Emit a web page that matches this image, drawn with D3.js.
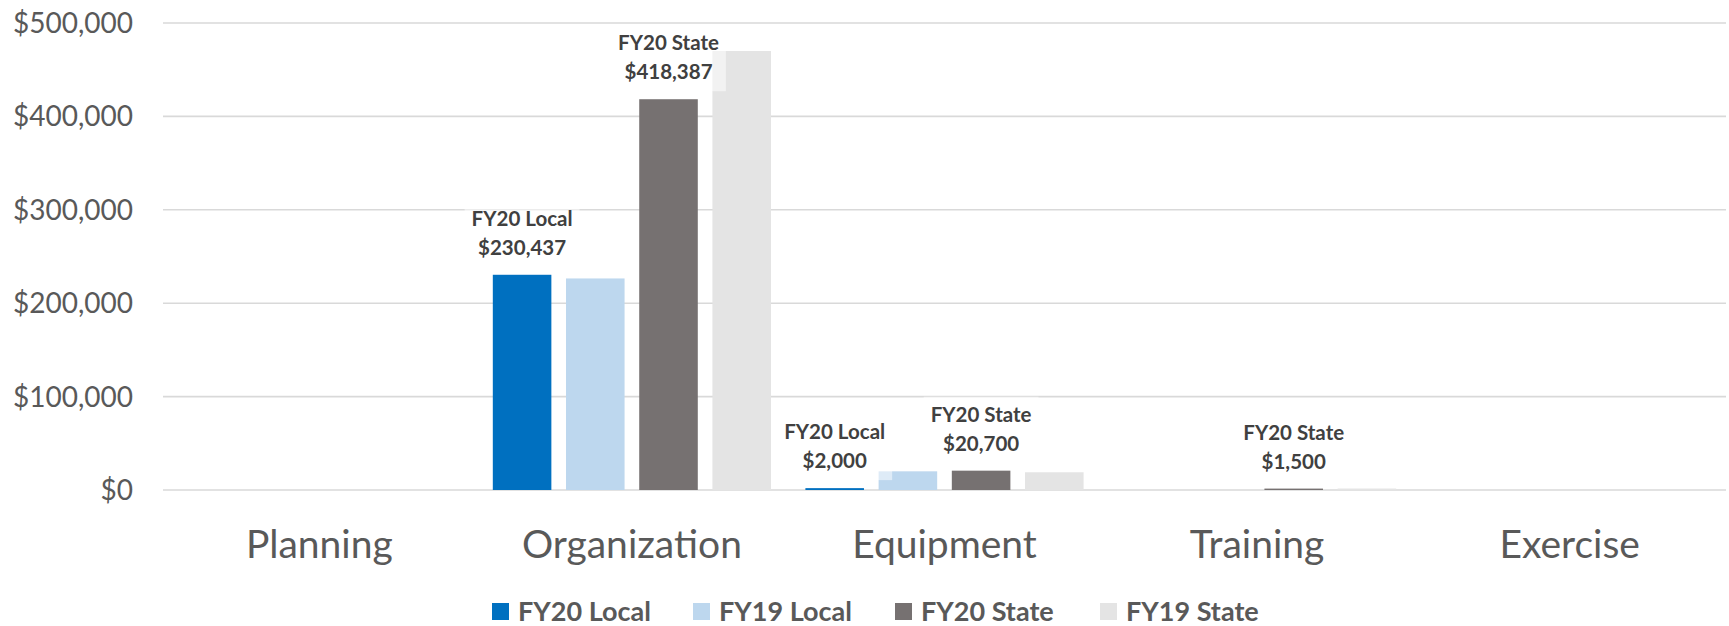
<!DOCTYPE html>
<html>
<head>
<meta charset="utf-8">
<script src="https://cdn.jsdelivr.net/npm/d3@7"></script>
<style>
  html, body { margin: 0; padding: 0; background: #fff; }
  svg { display: block; font-family: Lato, "Open Sans", sans-serif; }
</style>
</head>
<body>
<div class="chart"></div>
<script>
const categories = ['Planning', 'Organization', 'Equipment', 'Training', 'Exercise'];
const seriesNames = ['FY20 Local', 'FY19 Local', 'FY20 State', 'FY19 State'];
const fy20Local = [0, 230437, 2000, 0, 0];
const fy19Local = [0, 226500, 20000, 0, 0];
const fy20State = [0, 418387, 20700, 1500, 0];
const fy19State = [0, 470000, 19000, 1600, 0];
const yTicks = [0, 100000, 200000, 300000, 400000, 500000];
// only the FY20 series carry data labels
const labelled = ['FY20 Local', 'FY20 State'];

const COLORS = ['#0070C0', '#BDD7EE', '#767171', '#E4E4E4'];

const width = 1729, height = 626;
const seriesValues = [fy20Local, fy19Local, fy20State, fy19State];

const svg = d3.select('.chart').append('svg')
  .attr('width', width)
  .attr('height', height);

const x = d3.scaleBand()
  .domain(categories)
  .range([163, 1726])
  .padding(0);

const xInner = d3.scaleBand()
  .domain(seriesNames)
  .range([0, x.bandwidth()])
  .paddingInner(0.2)
  .paddingOuter(0.235);

const y = d3.scaleLinear()
  .domain([0, 500000])
  .range([490, 23]);

const fmt = d3.format(',');

// gridlines
svg.append('g').selectAll('line')
  .data(yTicks)
  .enter().append('line')
  .attr('x1', 163)
  .attr('x2', 1726)
  .attr('y1', d => y(d))
  .attr('y2', d => y(d))
  .attr('stroke', '#D9D9D9')
  .attr('stroke-width', 1.6);

// y tick labels
svg.append('g').selectAll('text')
  .data(yTicks)
  .enter().append('text')
  .attr('x', 133)
  .attr('y', d => y(d))
  .attr('dy', '0.36em')
  .attr('text-anchor', 'end')
  .attr('fill', '#595959')
  .style('font-size', '28px')
  .text(d => '$' + fmt(d));

// category labels
svg.append('g').selectAll('text')
  .data(categories)
  .enter().append('text')
  .attr('x', d => x(d) + x.bandwidth() / 2)
  .attr('y', 558)
  .attr('text-anchor', 'middle')
  .attr('fill', '#595959')
  .style('font-size', '39px')
  .text(d => d);

// bars
const rows = [];
categories.forEach((c, ci) => {
  seriesNames.forEach((s, si) => {
    rows.push({ cat: c, series: s, si: si, value: seriesValues[si][ci] });
  });
});

svg.append('g').selectAll('rect')
  .data(rows)
  .enter().append('rect')
  .attr('x', d => x(d.cat) + xInner(d.series))
  .attr('y', d => y(d.value))
  .attr('width', xInner.bandwidth())
  .attr('height', d => y(0) - y(d.value))
  .attr('fill', d => COLORS[d.si]);

// data labels with a half transparent white box behind them
const labels = svg.append('g').selectAll('g')
  .data(rows.filter(d => d.value > 0 && labelled.includes(d.series)))
  .enter().append('g')
  .attr('transform', d => 'translate(' + (x(d.cat) + xInner(d.series) + xInner.bandwidth() / 2) + ',' + y(d.value) + ')');

labels.each(function(d) {
  const g = d3.select(this);
  const box = g.append('rect');
  const t1 = g.append('text')
    .attr('y', -49)
    .text(d.series);
  const t2 = g.append('text')
    .attr('y', -20)
    .text('$' + fmt(d.value));
  g.selectAll('text')
    .attr('text-anchor', 'middle')
    .attr('fill', '#404040')
    .style('font-size', '20.5px')
    .style('font-weight', 'bold');
  const w = Math.max(t1.node().getComputedTextLength(), t2.node().getComputedTextLength());
  box.attr('x', -w / 2 - 7)
    .attr('width', w + 14)
    .attr('y', -74)
    .attr('height', 66)
    .attr('fill', '#fff')
    .attr('fill-opacity', 0.5);
});

// legend
const legendX = [492, 693, 895, 1100];
const legend = svg.append('g').selectAll('g')
  .data(seriesNames)
  .enter().append('g')
  .attr('transform', (d, i) => 'translate(' + legendX[i] + ',0)');

legend.append('rect')
  .attr('x', 0)
  .attr('y', 603)
  .attr('width', 17)
  .attr('height', 17)
  .attr('fill', (d, i) => COLORS[i]);

legend.append('text')
  .attr('x', 26)
  .attr('y', 620.5)
  .attr('fill', '#595959')
  .style('font-size', '27px')
  .style('font-weight', 'bold')
  .text(d => d);
</script>
</body>
</html>
